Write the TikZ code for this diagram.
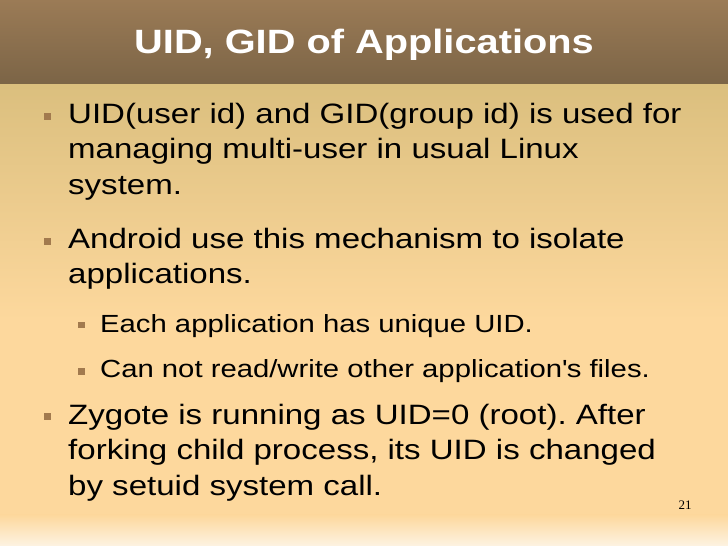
\documentclass[tikz,border=0pt]{standalone}
\usepackage{fontspec}
\setmainfont[FakeStretch=1.18]{Liberation Sans}
\newfontfamily\numfont{Liberation Serif}
\usetikzlibrary{positioning}
\frenchspacing
\definecolor{barTop}{HTML}{9B7B56}
\definecolor{barBot}{HTML}{7B6446}
\definecolor{bodyTop}{HTML}{DBBF7E}
\definecolor{bodyBot}{HTML}{FDD89D}
\definecolor{footBot}{HTML}{FDF3E2}
\definecolor{bulletCol}{HTML}{A27A4E}
\tikzset{
  titletext/.style = {text=white, font=\fontsize{33.7}{40}\selectfont\bfseries, inner sep=0},
  mainpara/.style = {anchor=north west, align=left, inner sep=0, font=\fontsize{28}{35.3}\selectfont},
  subpara/.style = {anchor=north west, align=left, inner sep=0, font=\fontsize{24.8}{30}\selectfont},
  mainbullet/.style = {fill=bulletCol, minimum size=7pt, inner sep=0},
  subbullet/.style = {fill=bulletCol, minimum size=6.5pt, inner sep=0}
}
\begin{document}
\begin{tikzpicture}[x=1pt, y=1pt]
        \useasboundingbox (0,0) rectangle (728,546);
        % background
        \shade[top color=barTop, bottom color=barBot] (0,461) rectangle (728,546);
        \shade[top color=bodyTop, bottom color=bodyBot] (0,226) rectangle (728,461);
        \fill[bodyBot] (0,31) rectangle (728,226);
        \shade[top color=bodyBot, bottom color=footBot] (0,0) rectangle (728,31);
        % title
        \node[titletext] (title) at (364, 501) {UID, GID of Applications};
        % bullets
        \node[mainpara] (p1) at (68, 443) {UID(user id) and GID(group id) is used for\\
            managing multi-user in usual Linux\\ system.};
        \node[mainpara] (p2) at (68, 318) {Android use this mechanism to isolate\\ applications.};
        \node[subpara] (s1) at (100, 232) {Each application has unique UID.};
        \node[subpara] (s2) at (100, 187) {Can not read/write other application\textquotesingle s files.};
        \node[mainpara] (p3) at (68, 142) {Zygote is running as UID=0 (root). After\\
            forking child process, its UID is changed\\ by setuid system call.};
        \node[mainbullet] (b1) at (47.5, 429.5) {};
        \node[mainbullet] (b2) at (47.5, 304.3) {};
        \node[subbullet] (sb1) at (81.7, 221) {};
        \node[subbullet] (sb2) at (81.7, 174.5) {};
        \node[mainbullet] (b3) at (47.5, 129.5) {};
        % page number
        \node[font=\numfont\fontsize{13}{15}\selectfont] (pagenum) at (685, 41) {21};
    \end{tikzpicture}
\end{document}
